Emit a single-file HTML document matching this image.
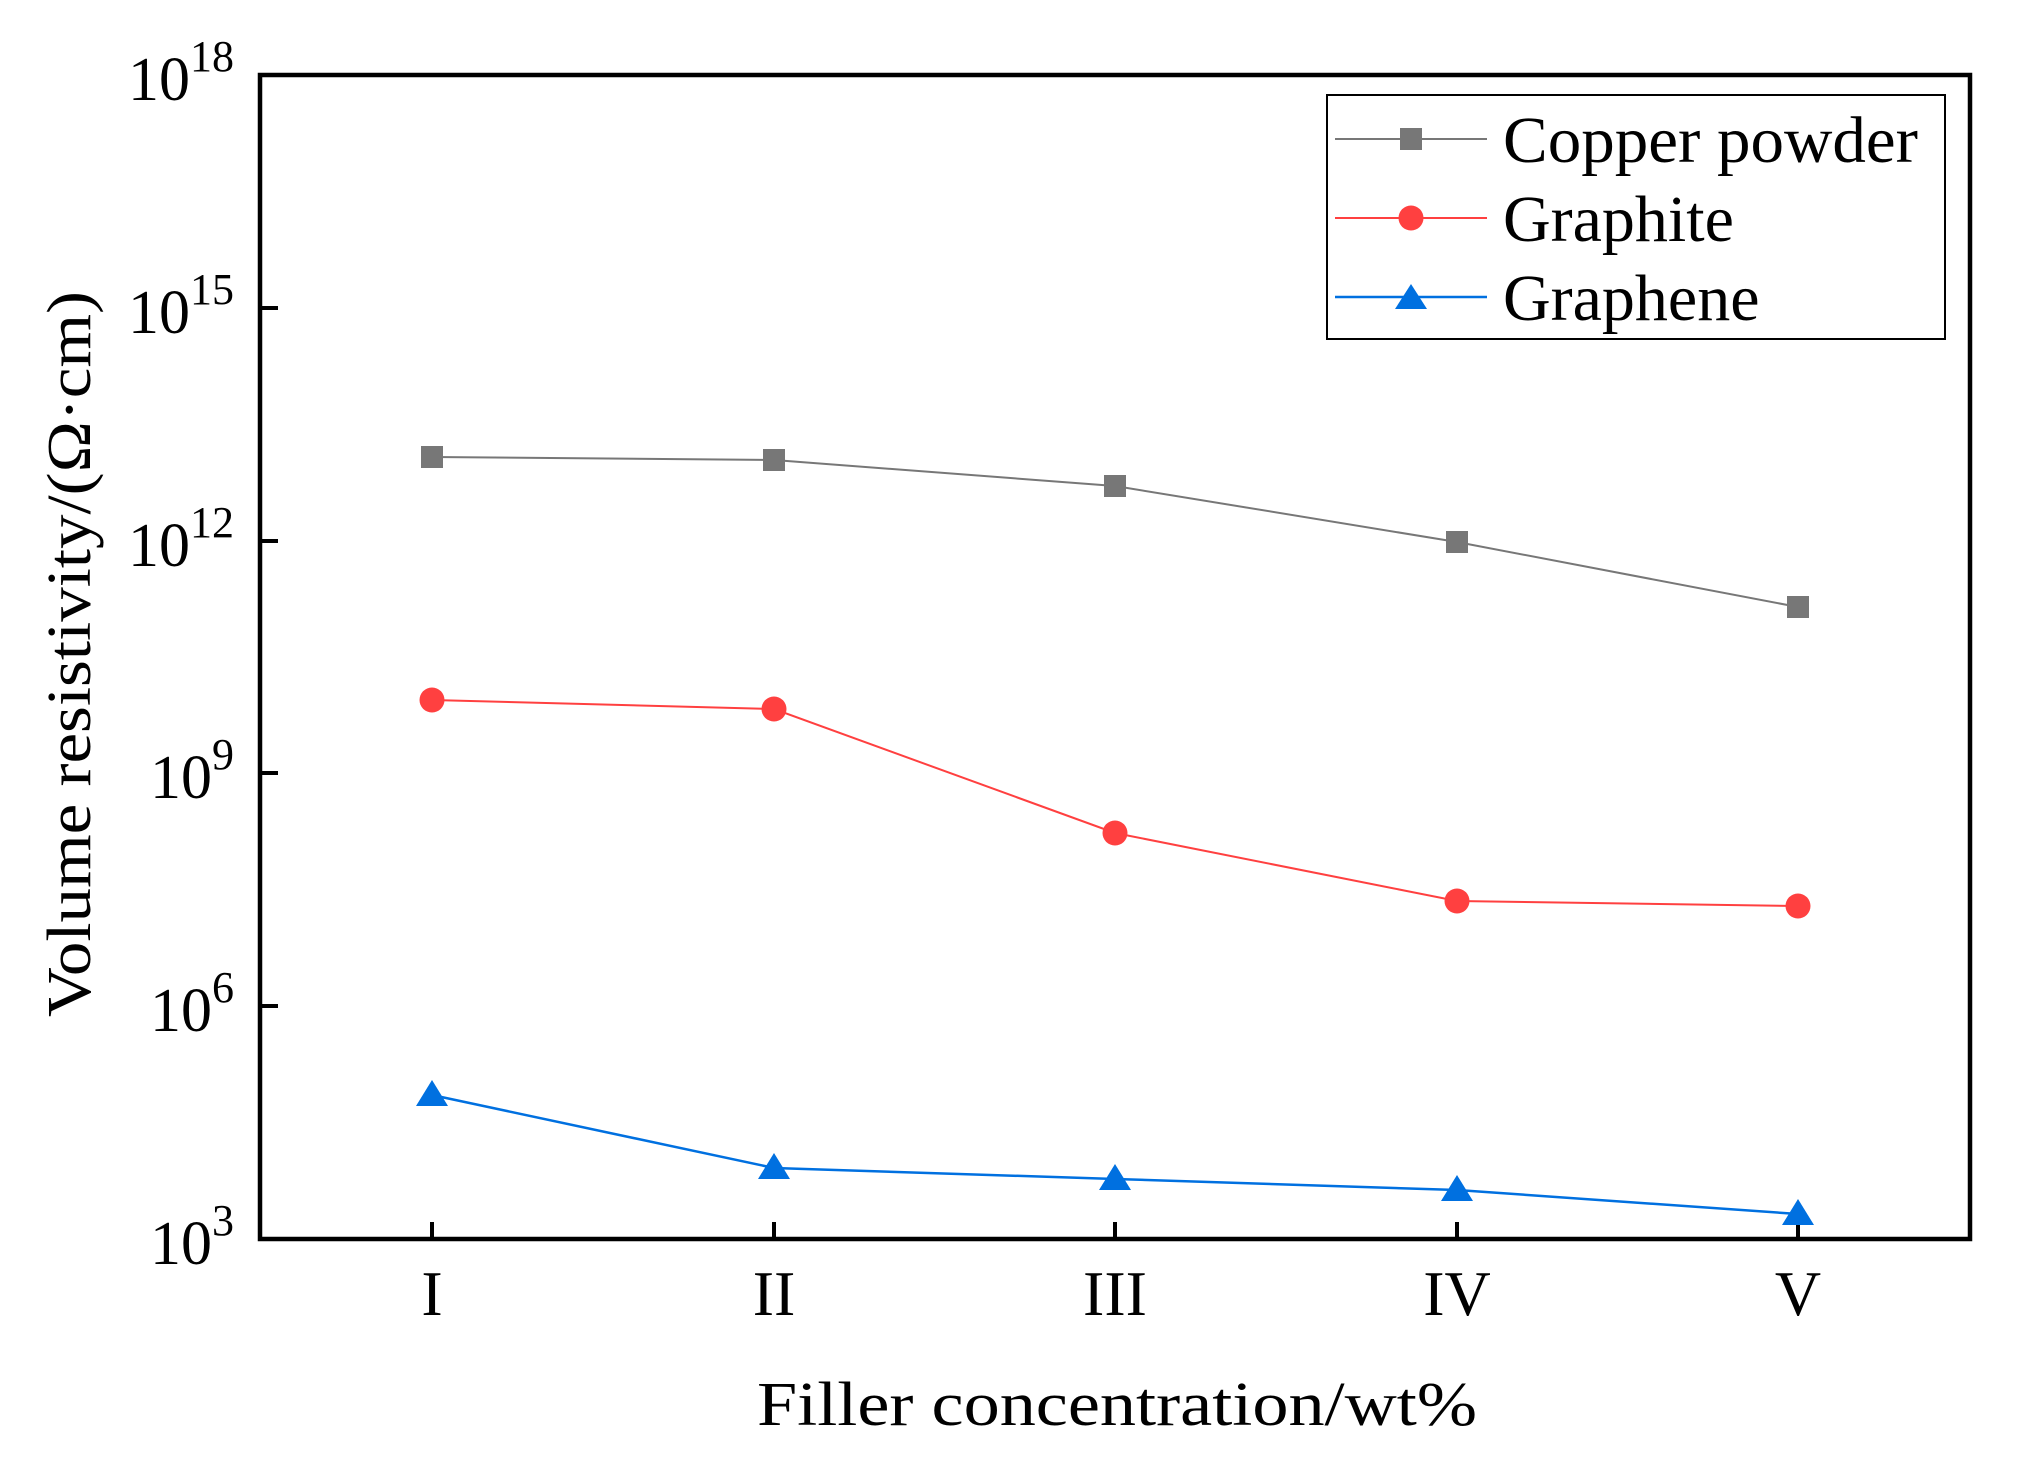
<!DOCTYPE html>
<html><head><meta charset="utf-8"><style>html,body{margin:0;padding:0;background:#fff}svg{display:block}</style></head>
<body>
<svg width="2033" height="1476" viewBox="0 0 2033 1476" xmlns="http://www.w3.org/2000/svg" font-family="Liberation Serif, serif">
<rect width="2033" height="1476" fill="#fff"/>
<g stroke="#000" stroke-width="4">
<line x1="260" y1="308" x2="278" y2="308"/>
<line x1="260" y1="541" x2="278" y2="541"/>
<line x1="260" y1="773" x2="278" y2="773"/>
<line x1="260" y1="1006" x2="278" y2="1006"/>
<line x1="432" y1="1239" x2="432" y2="1222"/>
<line x1="774" y1="1239" x2="774" y2="1222"/>
<line x1="1115" y1="1239" x2="1115" y2="1222"/>
<line x1="1457" y1="1239" x2="1457" y2="1222"/>
<line x1="1798" y1="1239" x2="1798" y2="1222"/>
</g>
<polyline fill="none" stroke="#777" stroke-width="2" points="432,457 774,460 1115,486 1457,542 1798,607"/>
<g fill="#777">
<rect x="421" y="446" width="22" height="22"/><rect x="763" y="449" width="22" height="22"/><rect x="1104" y="475" width="22" height="22"/><rect x="1446" y="531" width="22" height="22"/><rect x="1787" y="596" width="22" height="22"/>
</g>
<polyline fill="none" stroke="#ff4040" stroke-width="2" points="432,700 774,709 1115,833 1457,901 1798,906"/>
<g fill="#ff4040">
<circle cx="432" cy="700" r="12.5"/><circle cx="774" cy="709" r="12.5"/><circle cx="1115" cy="833" r="12.5"/><circle cx="1457" cy="901" r="12.5"/><circle cx="1798" cy="906" r="12.5"/>
</g>
<polyline fill="none" stroke="#0070e0" stroke-width="2.5" points="432,1095 774,1168 1115,1179 1457,1190 1798,1214"/>
<g fill="#0070e0">
<polygon points="432,1080 448,1106 416,1106"/><polygon points="774,1153 790,1179 758,1179"/><polygon points="1115,1164 1131,1190 1099,1190"/><polygon points="1457,1175 1473,1201 1441,1201"/><polygon points="1798,1199 1814,1225 1782,1225"/>
</g>
<rect x="260" y="75" width="1710" height="1164" fill="none" stroke="#000" stroke-width="4.5"/>
<g font-size="62" text-anchor="end">
<text x="234" y="100">10<tspan font-size="44" dy="-29">18</tspan></text>
<text x="234" y="333">10<tspan font-size="44" dy="-29">15</tspan></text>
<text x="234" y="566">10<tspan font-size="44" dy="-29">12</tspan></text>
<text x="234" y="798">10<tspan font-size="44" dy="-29">9</tspan></text>
<text x="234" y="1031">10<tspan font-size="44" dy="-29">6</tspan></text>
<text x="234" y="1264">10<tspan font-size="44" dy="-29">3</tspan></text>
</g>
<g font-size="64" text-anchor="middle">
<text x="432" y="1315">I</text><text x="774" y="1315">II</text><text x="1115" y="1315">III</text><text x="1457" y="1315">IV</text><text x="1798" y="1315">V</text>
</g>
<text x="1117" y="1425" font-size="62" text-anchor="middle" textLength="720" lengthAdjust="spacingAndGlyphs">Filler concentration/wt%</text>
<text transform="translate(90,654) rotate(-90)" font-size="62" text-anchor="middle" textLength="726" lengthAdjust="spacingAndGlyphs">Volume resistivity/(Ω·cm)</text>
<rect x="1327" y="95" width="618" height="244" fill="#fff" stroke="#000" stroke-width="2"/>
<line x1="1335" y1="139" x2="1487" y2="139" stroke="#777" stroke-width="2"/>
<rect x="1400" y="128" width="22" height="22" fill="#777"/>
<line x1="1335" y1="218" x2="1487" y2="218" stroke="#ff4040" stroke-width="2"/>
<circle cx="1411" cy="218" r="12.5" fill="#ff4040"/>
<line x1="1335" y1="297" x2="1487" y2="297" stroke="#0070e0" stroke-width="2.5"/>
<polygon points="1411,284 1427,309 1395,309" fill="#0070e0"/>
<g font-size="66">
<text x="1503" y="162" textLength="415" lengthAdjust="spacingAndGlyphs">Copper powder</text><text x="1503" y="241">Graphite</text><text x="1503" y="320">Graphene</text>
</g>
</svg>
</body></html>
